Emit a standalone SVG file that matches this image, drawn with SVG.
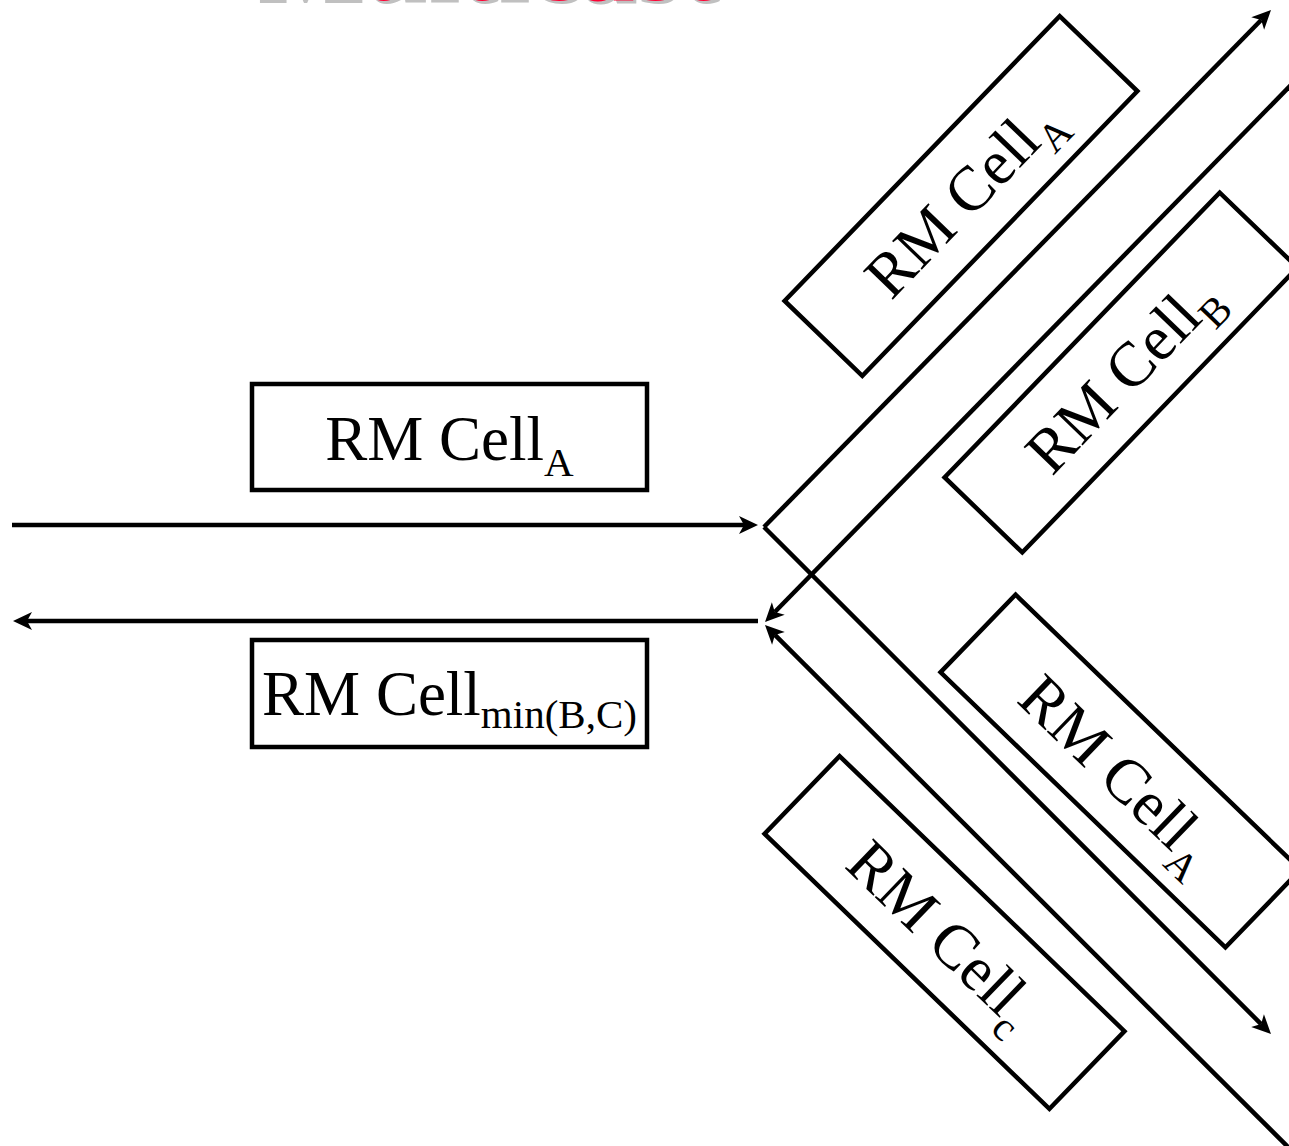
<svg xmlns="http://www.w3.org/2000/svg" width="1289" height="1146" viewBox="0 0 1289 1146">
<style>
.box{fill:#fff;stroke:#000;stroke-width:4.5}
.ln{fill:none;stroke:#000;stroke-width:4.5}
.lbl{font-family:"Liberation Serif","Times New Roman",serif;font-size:63px;fill:#000}
.sub{font-size:41px}
.title{font-family:"Liberation Serif","Times New Roman",serif;font-size:114px;font-weight:bold}
</style>
<defs>
<marker id="ah" markerUnits="userSpaceOnUse" viewBox="-6 -10 21 20" refX="0" refY="0" markerWidth="21" markerHeight="20" orient="auto">
<path d="M14,0 L-5,-9 L0,0 L-5,9 Z" fill="#000"/>
</marker>
</defs>
<rect width="1289" height="1146" fill="#fff"/>
<g id="title">
<text class="title" x="258" y="3" fill="#c0c0c0">Multicast</text>
<text class="title" x="255" y="0" fill="#ff0033">Multicast</text>
</g>
<g id="connectors">
<line class="ln" x1="12" y1="525" x2="744" y2="525" marker-end="url(#ah)"/>
<line class="ln" x1="758" y1="621" x2="27" y2="621" marker-end="url(#ah)"/>
<line class="ln" x1="764" y1="527" x2="1261.2" y2="20" marker-end="url(#ah)"/>
<line class="ln" x1="764" y1="527" x2="1261.1" y2="1024.1" marker-end="url(#ah)"/>
<line class="ln" x1="1291" y1="85" x2="774.8" y2="612" marker-end="url(#ah)"/>
<line class="ln" x1="1289" y1="1148" x2="774.9" y2="634.9" marker-end="url(#ah)"/>
</g>
<g id="node-rm-a-in" transform="translate(449.5,437)">
<rect class="box" x="-197.5" y="-53" width="395" height="106"/>
<text class="lbl" x="0" y="23" text-anchor="middle">RM Cell<tspan class="sub" dy="16">A</tspan></text>
</g>
<g id="node-rm-min" transform="translate(449.5,693.5)">
<rect class="box" x="-197.5" y="-53.5" width="395" height="107"/>
<text class="lbl" x="0" y="21.5" text-anchor="middle">RM Cell<tspan class="sub" dy="13">min(B,C)</tspan></text>
</g>
<g id="node-rm-a-up" transform="translate(961,196) rotate(-46)">
<rect class="box" x="-198" y="-54" width="396" height="108"/>
<text class="lbl" x="0" y="23" text-anchor="middle">RM Cell<tspan class="sub" dy="16">A</tspan></text>
</g>
<g id="node-rm-b" transform="translate(1121,372.5) rotate(-46)">
<rect class="box" x="-198" y="-54" width="396" height="108"/>
<text class="lbl" x="0" y="23" text-anchor="middle">RM Cell<tspan class="sub" dy="16">B</tspan></text>
</g>
<g id="node-rm-a-down" transform="translate(1120.5,771) rotate(44)">
<rect class="box" x="-198" y="-54" width="396" height="108"/>
<text class="lbl" x="0" y="23" text-anchor="middle">RM Cell<tspan class="sub" dy="16">A</tspan></text>
</g>
<g id="node-rm-c" transform="translate(944.5,932.5) rotate(44)">
<rect class="box" x="-198" y="-54" width="396" height="108"/>
<text class="lbl" x="0" y="23" text-anchor="middle">RM Cell<tspan class="sub" dy="16">c</tspan></text>
</g>
</svg>
